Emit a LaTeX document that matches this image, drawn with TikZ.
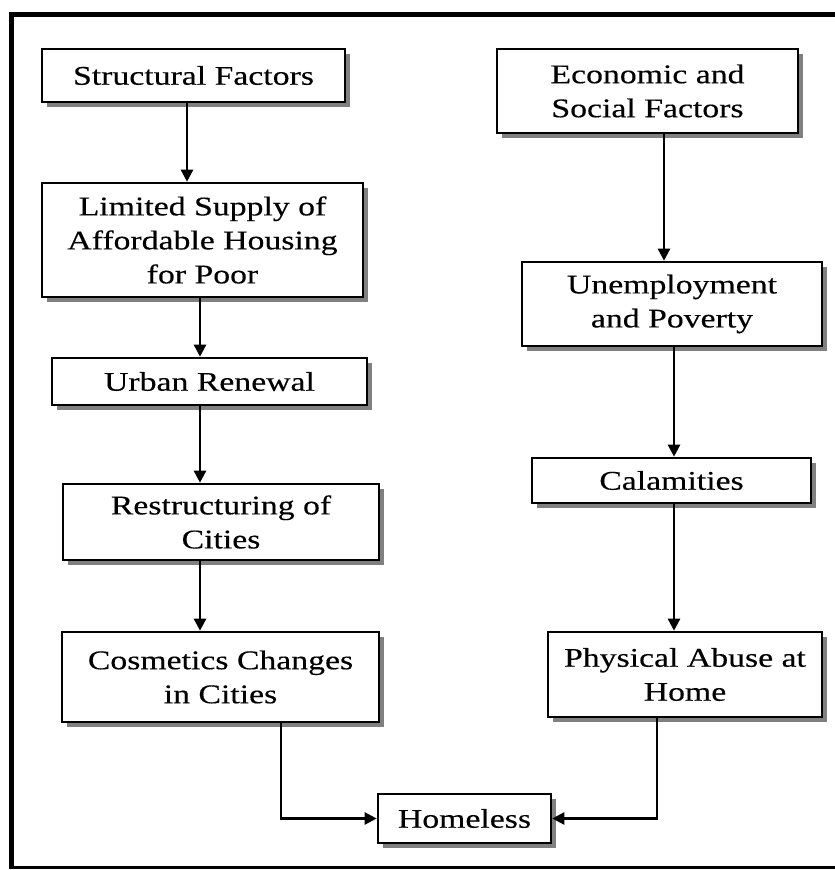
\documentclass[tikz,border=0pt]{standalone}
\usepackage{fontspec}
\setmainfont{Liberation Serif}[FakeStretch=1.25,FakeBold=0.3]
\usepackage{tikz}
\usetikzlibrary{arrows.meta,shadows}

\begin{document}
\begin{tikzpicture}[x=1pt,y=-1pt,
    box/.style={draw, line width=2.6pt, fill=white, align=center, inner sep=0pt,
        font=\fontsize{27}{34}\selectfont,
        drop shadow={shadow xshift=5pt, shadow yshift=-5pt, fill=black!50, opacity=1}},
    arr/.style={line width=2.4pt, -{Triangle[width=12pt,length=12pt]}}]

\useasboundingbox (0,0) rectangle (835,870);

% Outer frame
\draw[line width=5pt] (11.5,14.5) -- (835,14.5);
\draw[line width=5pt] (11.5,12) -- (11.5,869);
\draw[line width=3pt] (9,867.5) -- (835,867.5);

% Left column
\node [box, minimum width=303, minimum height=53] (sf) at (193.5,75.5) {Structural Factors};
\node [box, minimum width=321, minimum height=114] (lim) at (202.5,240) {Limited Supply of\\Affordable Housing\\for Poor};
\node [box, minimum width=315, minimum height=47] (urb) at (209.5,381.5) {Urban Renewal};
\node [box, minimum width=316, minimum height=76] (res) at (221,522) {Restructuring of\\Cities};
\node [box, minimum width=317, minimum height=90] (cos) at (220.5,677) {Cosmetics Changes\\in Cities};

% Right column
\node [box, minimum width=301, minimum height=84] (eco) at (647.5,91) {Economic and\\Social Factors};
\node [box, minimum width=300, minimum height=84] (une) at (672,304) {Unemployment\\and Poverty};
\node [box, minimum width=279, minimum height=45] (cal) at (671.5,480.5) {Calamities};
\node [box, minimum width=274, minimum height=85] (phy) at (685,674.5) {Physical Abuse at\\Home};

\node [box, minimum width=173, minimum height=49] (hom) at (464.5,818.5) {Homeless};

\draw[arr] ([xshift=-6.5pt]sf.south) -- ([xshift=-15.5pt]lim.north);
\draw[arr] ([xshift=-2.5pt]lim.south) -- ([xshift=-9.5pt]urb.north);
\draw[arr] ([xshift=-9.5pt]urb.south) -- ([xshift=-21pt]res.north);
\draw[arr] ([xshift=-21pt]res.south) -- ([xshift=-20.5pt]cos.north);

\draw[arr] ([xshift=16.5pt]eco.south) -- ([xshift=-8pt]une.north);
\draw[arr] ([xshift=2pt]une.south) -- ([xshift=2.5pt]cal.north);
\draw[arr] ([xshift=2.5pt]cal.south) -- ([xshift=-11pt]phy.north);

\draw[arr] ([xshift=60.5pt]cos.south) |- (hom.west); % into Homeless from left
\draw[arr] ([xshift=-28pt]phy.south) |- (hom.east); % into Homeless from right

\end{tikzpicture}
\end{document}
